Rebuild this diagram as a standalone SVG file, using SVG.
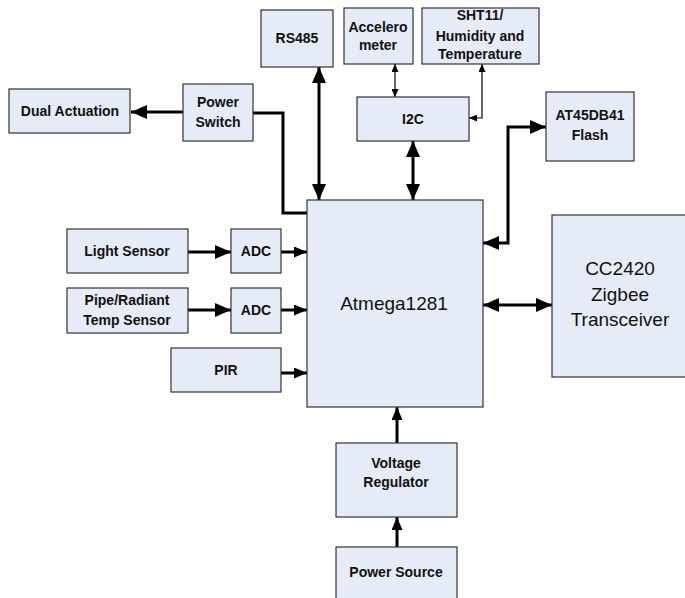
<svg xmlns="http://www.w3.org/2000/svg" width="685" height="598" viewBox="0 0 685 598">
<defs>
<style>
.box{fill:#e6ecf7;stroke:#333;stroke-width:1.2}
.lb{font-family:"Liberation Sans",Arial,sans-serif;font-weight:bold;font-size:14px;fill:#111;text-anchor:middle}
.ln{font-family:"Liberation Sans",Arial,sans-serif;font-size:19px;fill:#111;text-anchor:middle}
.thick{stroke:#000;stroke-width:3;fill:none}
.thin{stroke:#000;stroke-width:1.2;fill:none}
</style>
<marker id="big" markerUnits="userSpaceOnUse" markerWidth="16" markerHeight="14" refX="16" refY="7" orient="auto-start-reverse"><path d="M0,0 L16,7 L0,14 z" fill="#000"/></marker>
<marker id="sm" markerUnits="userSpaceOnUse" markerWidth="13" markerHeight="11" refX="13" refY="5.5" orient="auto-start-reverse"><path d="M0,0 L13,5.5 L0,11 z" fill="#000"/></marker>
<marker id="tiny" markerUnits="userSpaceOnUse" markerWidth="8" markerHeight="7" refX="8" refY="3.5" orient="auto-start-reverse"><path d="M0,0 L8,3.5 L0,7 z" fill="#000"/></marker>
</defs>
<rect width="685" height="598" fill="#fff"/>
<g id="connectors">
<line class="thick" x1="183" y1="112" x2="131" y2="112" marker-end="url(#big)"/>
<polyline class="thick" points="253,113 283,113 283,213 307,213"/>
<line class="thick" x1="319" y1="67" x2="319" y2="200" marker-start="url(#big)" marker-end="url(#big)"/>
<line class="thin" x1="395" y1="64" x2="395" y2="97" marker-start="url(#tiny)" marker-end="url(#tiny)"/>
<polyline class="thin" points="469,118 482,118 482,64" marker-start="url(#tiny)" marker-end="url(#tiny)"/>
<line class="thick" x1="413" y1="141" x2="413" y2="200" marker-start="url(#big)" marker-end="url(#big)"/>
<polyline class="thick" points="483,243 508,243 508,127 546,127" marker-start="url(#big)" marker-end="url(#big)"/>
<line class="thick" x1="483" y1="305" x2="552" y2="305" marker-start="url(#big)" marker-end="url(#big)"/>
<line class="thick" x1="188" y1="252" x2="231" y2="252" marker-end="url(#big)"/>
<line class="thick" x1="281" y1="252" x2="307" y2="252" marker-end="url(#sm)"/>
<line class="thick" x1="188" y1="310" x2="231" y2="310" marker-end="url(#big)"/>
<line class="thick" x1="281" y1="310" x2="307" y2="310" marker-end="url(#sm)"/>
<line class="thick" x1="281" y1="373" x2="307" y2="373" marker-end="url(#sm)"/>
<line class="thick" x1="397" y1="443" x2="397" y2="407" marker-end="url(#sm)"/>
<line class="thick" x1="397" y1="547" x2="397" y2="517" marker-end="url(#sm)"/>
</g>
<g id="dual"><rect class="box" x="9" y="89" width="121" height="44"/><text class="lb" x="70" y="116">Dual Actuation</text></g>
<g id="powerswitch"><rect class="box" x="183" y="84" width="70" height="57"/><text class="lb" x="218" y="107">Power</text><text class="lb" x="218" y="127">Switch</text></g>
<g id="rs485"><rect class="box" x="261" y="10" width="72" height="57"/><text class="lb" x="297" y="43">RS485</text></g>
<g id="accel"><rect class="box" x="344" y="8" width="69" height="56"/><text class="lb" x="378" y="32">Accelero</text><text class="lb" x="378" y="50">meter</text></g>
<g id="sht11"><rect class="box" x="422" y="8" width="117" height="56"/><text class="lb" x="480" y="20">SHT11/</text><text class="lb" x="480" y="41">Humidity and</text><text class="lb" x="480" y="59">Temperature</text></g>
<g id="i2c"><rect class="box" x="357" y="97" width="112" height="44"/><text class="lb" x="413" y="124">I2C</text></g>
<g id="flash"><rect class="box" x="546" y="92" width="88" height="69"/><text class="lb" x="590" y="120">AT45DB41</text><text class="lb" x="590" y="140">Flash</text></g>
<g id="atmega"><rect class="box" x="307" y="200" width="176" height="207"/><text class="ln" x="394" y="310">Atmega1281</text></g>
<g id="cc2420"><rect class="box" x="552" y="215" width="140" height="162"/><text class="ln" x="620" y="275">CC2420</text><text class="ln" x="620" y="301">Zigbee</text><text class="ln" x="620" y="326">Transceiver</text></g>
<g id="light"><rect class="box" x="67" y="229" width="121" height="44"/><text class="lb" x="127" y="256">Light Sensor</text></g>
<g id="adc1"><rect class="box" x="231" y="229" width="50" height="44"/><text class="lb" x="256" y="256">ADC</text></g>
<g id="pipe"><rect class="box" x="67" y="288" width="121" height="45"/><text class="lb" x="127" y="305">Pipe/Radiant</text><text class="lb" x="127" y="325">Temp Sensor</text></g>
<g id="adc2"><rect class="box" x="231" y="288" width="50" height="45"/><text class="lb" x="256" y="315">ADC</text></g>
<g id="pir"><rect class="box" x="171" y="348" width="110" height="44"/><text class="lb" x="226" y="375">PIR</text></g>
<g id="vreg"><rect class="box" x="336" y="443" width="121" height="74"/><text class="lb" x="396" y="468">Voltage</text><text class="lb" x="396" y="487">Regulator</text></g>
<g id="psrc"><rect class="box" x="336" y="547" width="121" height="60"/><text class="lb" x="396" y="577">Power Source</text></g>
</svg>
